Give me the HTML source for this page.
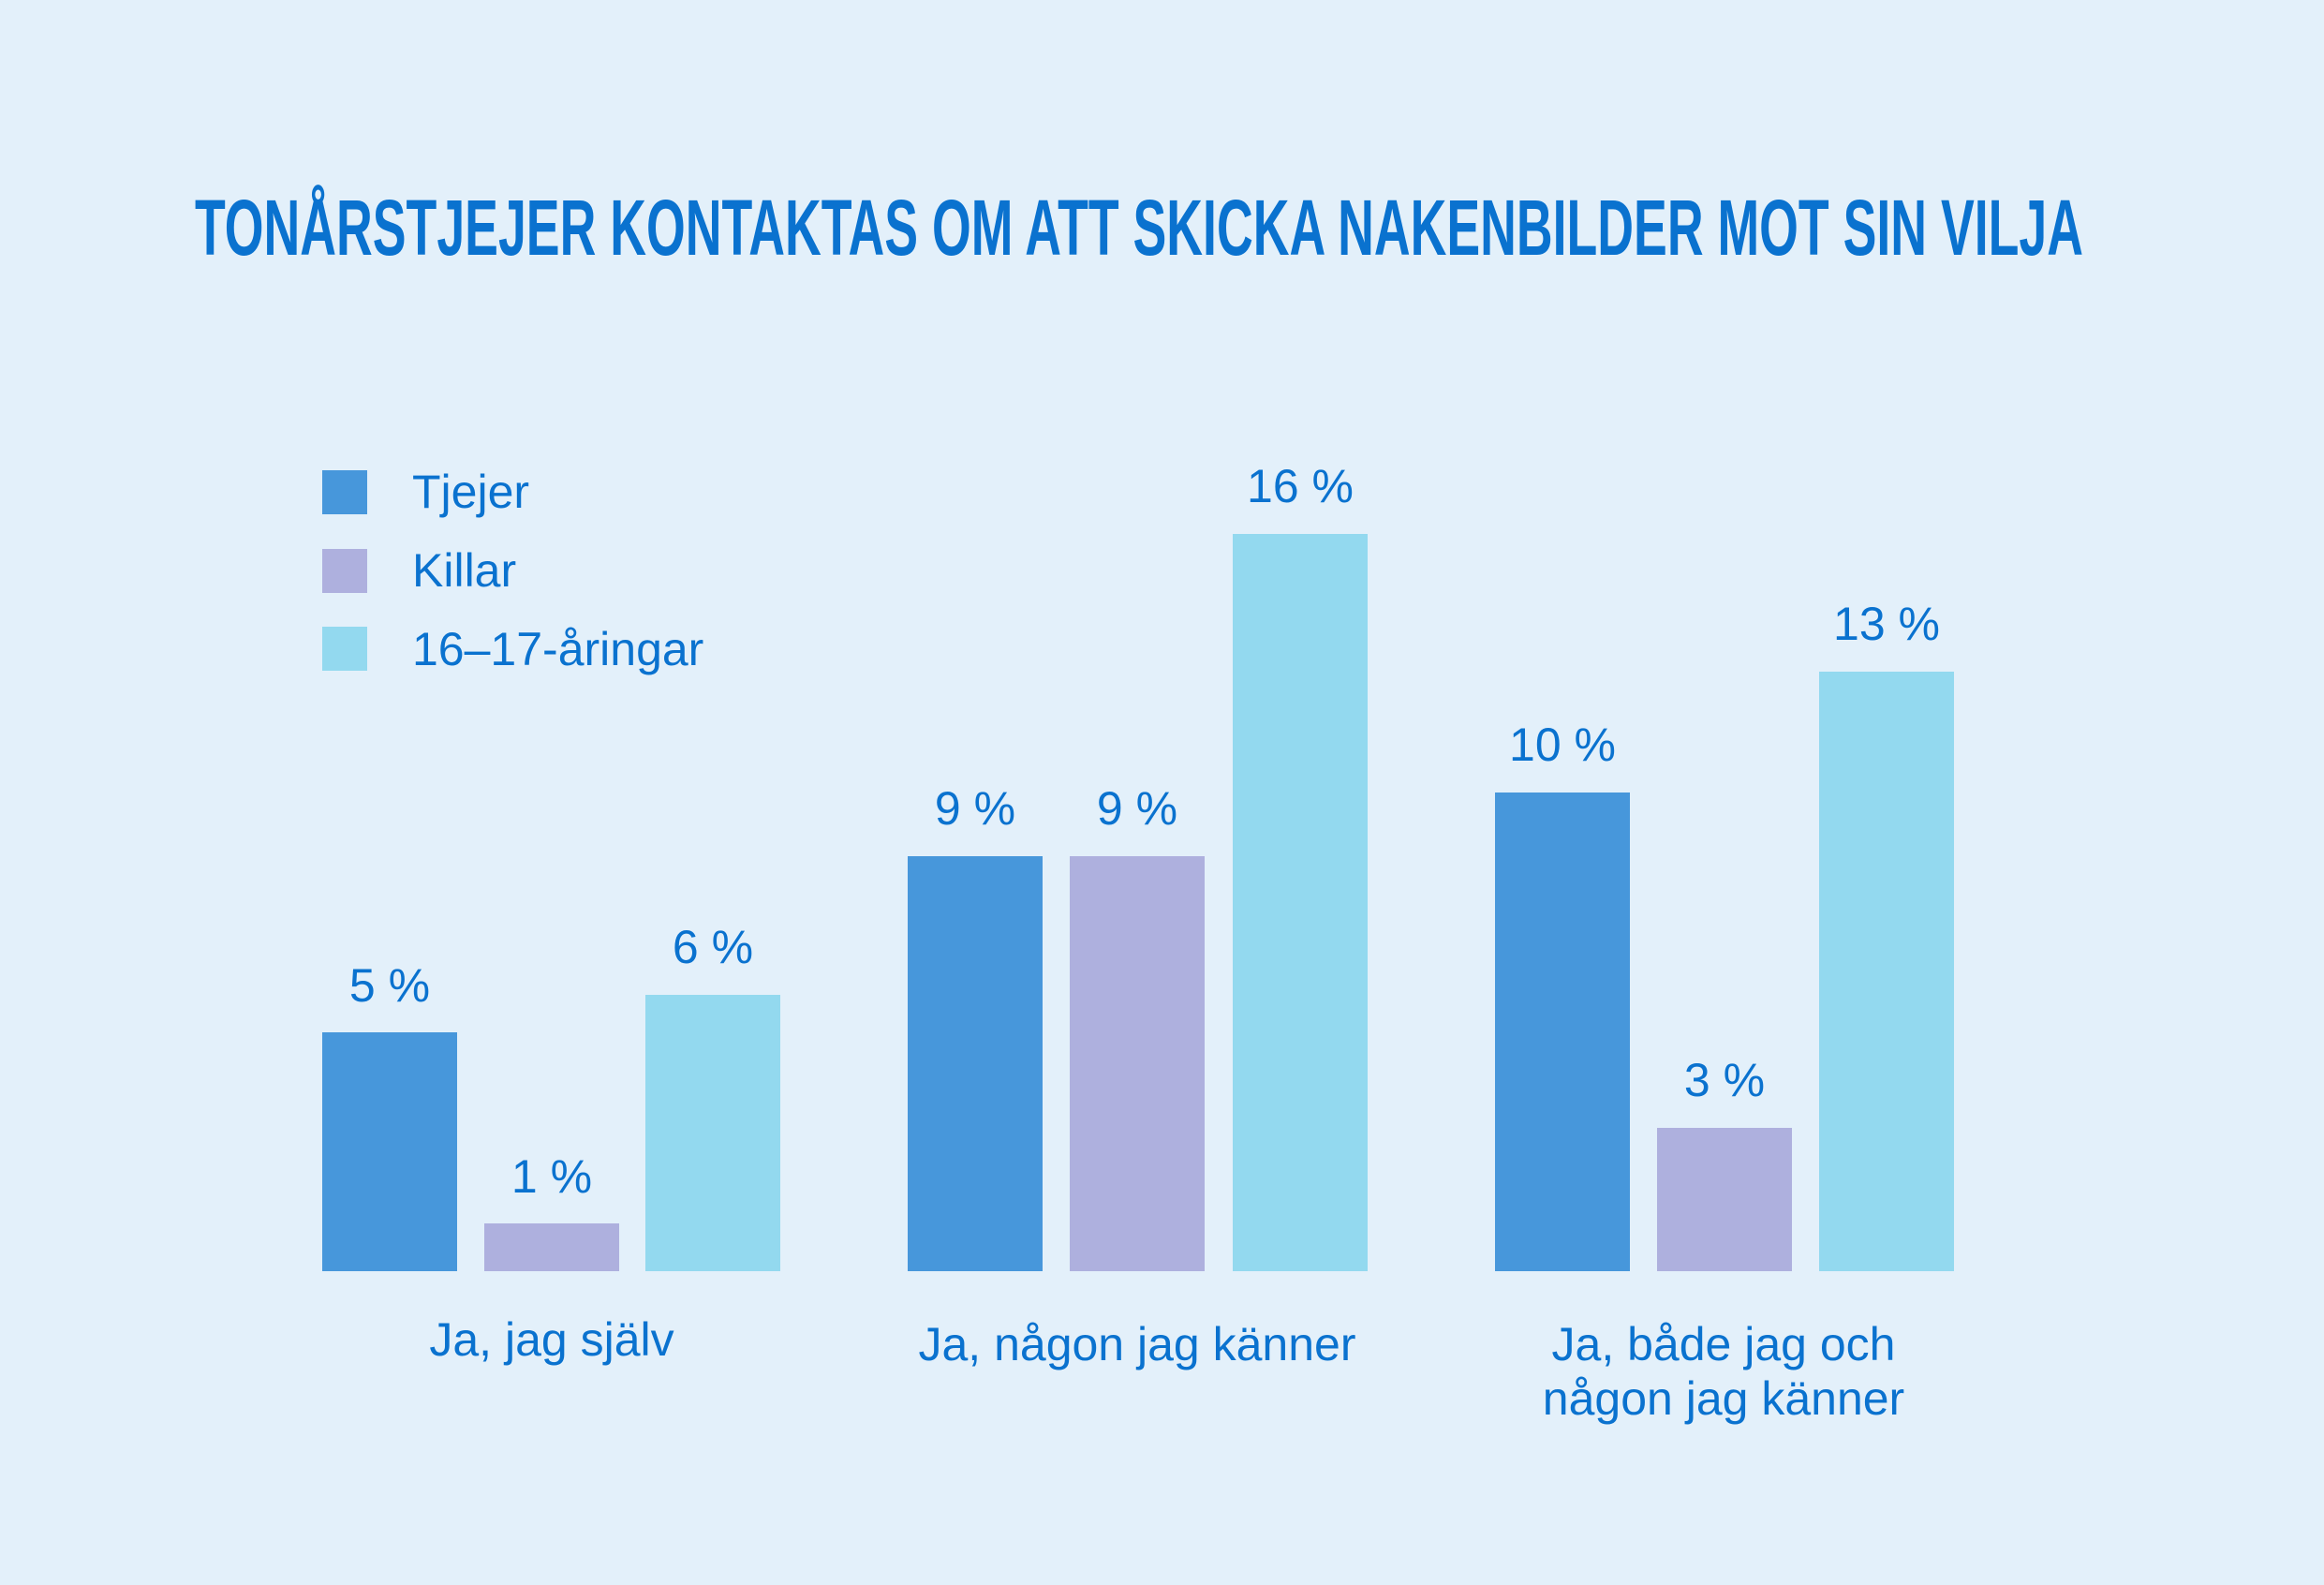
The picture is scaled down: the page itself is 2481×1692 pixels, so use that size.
<!DOCTYPE html>
<html>
<head>
<meta charset="utf-8">
<style>
  html, body { margin:0; padding:0; background:#e3f0fa; }
  svg { display:block; }
</style>
</head>
<body>
<svg width="2481" height="1692" viewBox="0 0 2481 1692" xmlns="http://www.w3.org/2000/svg">
  <rect x="0" y="0" width="2481" height="1692" fill="#e3f0fa"/>

  <!-- Title -->
  <text x="208" y="272" font-family="'Liberation Sans Narrow','Liberation Sans',sans-serif" font-weight="bold" font-size="84" fill="#0a72cf" textLength="2016" lengthAdjust="spacingAndGlyphs">TONÅRSTJEJER KONTAKTAS OM ATT SKICKA NAKENBILDER MOT SIN VILJA</text>

  <!-- Legend -->
  <rect x="344" y="502" width="48" height="47" fill="#4797db"/>
  <rect x="344" y="586" width="48" height="47" fill="#aeb0de"/>
  <rect x="344" y="669" width="48" height="47" fill="#93d9ef"/>
  <g font-family="'Liberation Sans',Arial,sans-serif" font-size="50" fill="#0a72cf">
    <text x="440" y="542">Tjejer</text>
    <text x="440" y="626">Killar</text>
    <text x="440" y="710">16–17-åringar</text>
  </g>

  <!-- Bars group 1 -->
  <rect x="344" y="1102" width="144" height="255" fill="#4797db"/>
  <rect x="517" y="1306" width="144" height="51" fill="#aeb0de"/>
  <rect x="689" y="1062" width="144" height="295" fill="#93d9ef"/>
  <!-- Bars group 2 -->
  <rect x="969" y="914" width="144" height="443" fill="#4797db"/>
  <rect x="1142" y="914" width="144" height="443" fill="#aeb0de"/>
  <rect x="1316" y="570" width="144" height="787" fill="#93d9ef"/>
  <!-- Bars group 3 -->
  <rect x="1596" y="846" width="144" height="511" fill="#4797db"/>
  <rect x="1769" y="1204" width="144" height="153" fill="#aeb0de"/>
  <rect x="1942" y="717" width="144" height="640" fill="#93d9ef"/>

  <!-- Value labels -->
  <g font-family="'Liberation Sans',Arial,sans-serif" font-size="50" fill="#0a72cf" text-anchor="middle">
    <text x="416" y="1069">5 %</text>
    <text x="589" y="1273">1 %</text>
    <text x="761" y="1028">6 %</text>
    <text x="1041" y="880">9 %</text>
    <text x="1214" y="880">9 %</text>
    <text x="1388" y="536">16 %</text>
    <text x="1668" y="812">10 %</text>
    <text x="1841" y="1170">3 %</text>
    <text x="2014" y="683">13 %</text>
  </g>

  <!-- Category labels -->
  <g font-family="'Liberation Sans',Arial,sans-serif" font-size="50" fill="#0a72cf" text-anchor="middle">
    <text x="589" y="1447">Ja, jag själv</text>
    <text x="1214" y="1452">Ja, någon jag känner</text>
    <text x="1840" y="1452">Ja, både jag och</text>
    <text x="1840" y="1510">någon jag känner</text>
  </g>
</svg>
</body>
</html>
